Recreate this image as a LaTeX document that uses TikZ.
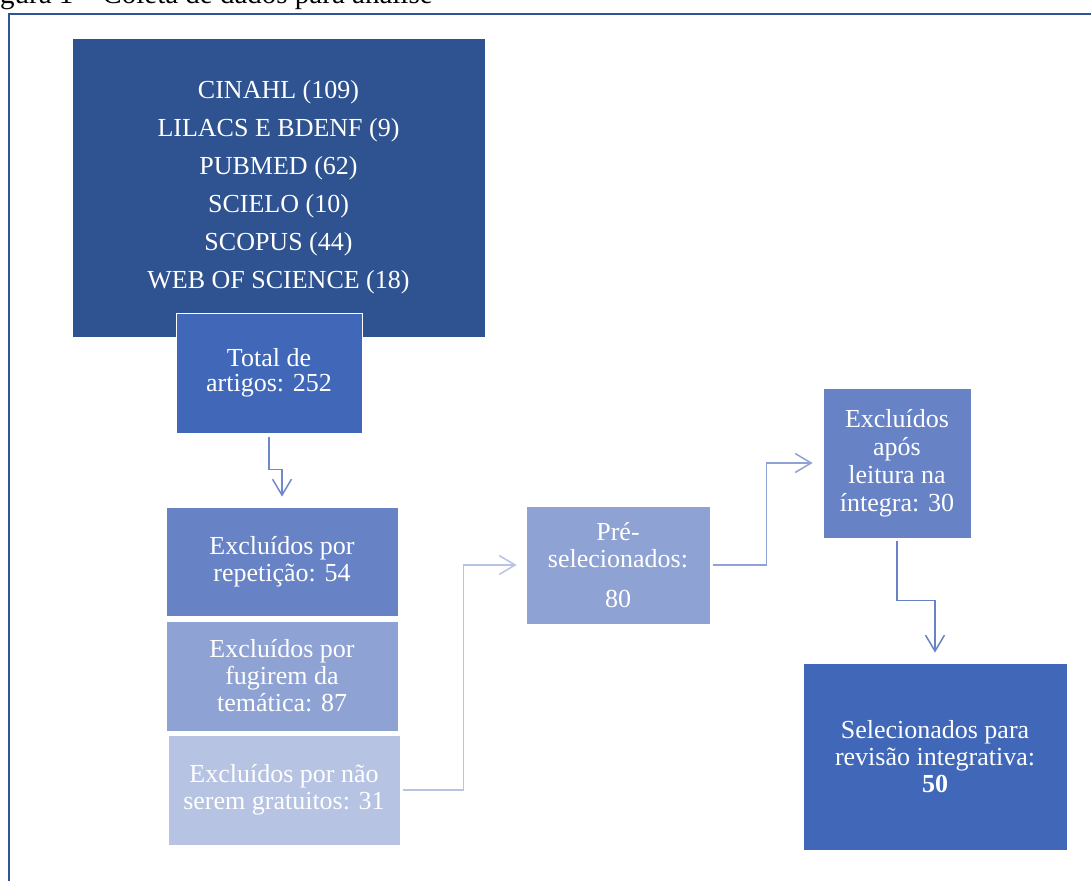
\documentclass[tikz,border=0pt]{standalone}
\usepackage{fontspec}
\setmainfont{Liberation Serif}
\usetikzlibrary{arrows.meta}
\definecolor{frameblue}{HTML}{2F5597}
\definecolor{darkblue}{HTML}{2F5290}
\definecolor{midblue}{HTML}{4167B8}
\definecolor{softblue}{HTML}{6783C6}
\definecolor{paleblue}{HTML}{8FA2D4}
\definecolor{faintblue}{HTML}{B6C3E2}
\definecolor{arrowblue}{HTML}{7089CB}
\begin{document}
\begin{tikzpicture}[x=1pt,y=-1pt,
  box/.style={draw=white,line width=0.8pt,text=white,inner sep=0pt,align=center,
    font=\fontsize{26}{27}\selectfont},
  conn/.style={line width=1.5pt,shorten <=3pt,shorten >=10pt,
    -{Straight Barb[length=16pt,width=19pt]}}]
  \useasboundingbox (0,0) rectangle (1091,880);
  % caption and frame, cut by the page
  \node[anchor=base west,inner sep=0pt,font=\fontsize{29}{30}\selectfont] (cap) at (0,4) {gura 1 – Coleta de dados para análise};
  \draw[frameblue,line width=2pt] (9,882) -- (9,14) -- (1093,14);
  % databases
  \node[box,fill=darkblue,minimum width=413pt,minimum height=299pt,
    font=\fontsize{26}{38}\selectfont] (src) at (278.5,187.5)
    {CINAHL (109)\\LILACS E BDENF (9)\\PUBMED (62)\\SCIELO (10)\\SCOPUS (44)\\WEB OF SCIENCE (18)};
  \node[box,fill=midblue,minimum width=186pt,minimum height=120pt,
    font=\fontsize{26}{25}\selectfont] (total) at (269,373) {Total de\\artigos: 252};
  % exclusions
  \node[box,fill=softblue,minimum width=232pt,minimum height=109pt] (rep) at (282,561.5)
    {Excluídos por\\repetição: 54};
  \node[box,fill=paleblue,minimum width=232pt,minimum height=110pt] (fug) at (282,676)
    {Excluídos por\\fugirem da\\temática: 87};
  \node[box,fill=faintblue,minimum width=232pt,minimum height=110pt] (nao) at (284,790)
    {Excluídos por não\\serem gratuitos: 31};
  % selection
  \node[box,fill=paleblue,minimum width=184pt,minimum height=118pt] (pre) at (618,565)
    {Pré-\\selecionados:\\[13pt]80};
  \node[box,fill=softblue,minimum width=148pt,minimum height=150pt,
    font=\fontsize{26}{28}\selectfont] (apos) at (897,463)
    {Excluídos\\após\\leitura na\\íntegra: 30};
  \node[box,fill=midblue,minimum width=264pt,minimum height=187pt] (sel) at (935,756.5)
    {Selecionados para\\revisão integrativa:\\\textbf{50}};
  % connectors
  \draw[conn,arrowblue,shorten <=4pt] (total.south) -- ++(0,36) -| (rep.north);
  \draw[conn,faintblue,shorten >=9pt] (nao.east) -- ++(63,0) |- (pre.west);
  \draw[conn,paleblue] (pre.east) -- ++(56,0) |- (apos.west);
  \draw[conn,softblue] (apos.south) -- ++(0,62) -| (sel.north);
\end{tikzpicture}
\end{document}
